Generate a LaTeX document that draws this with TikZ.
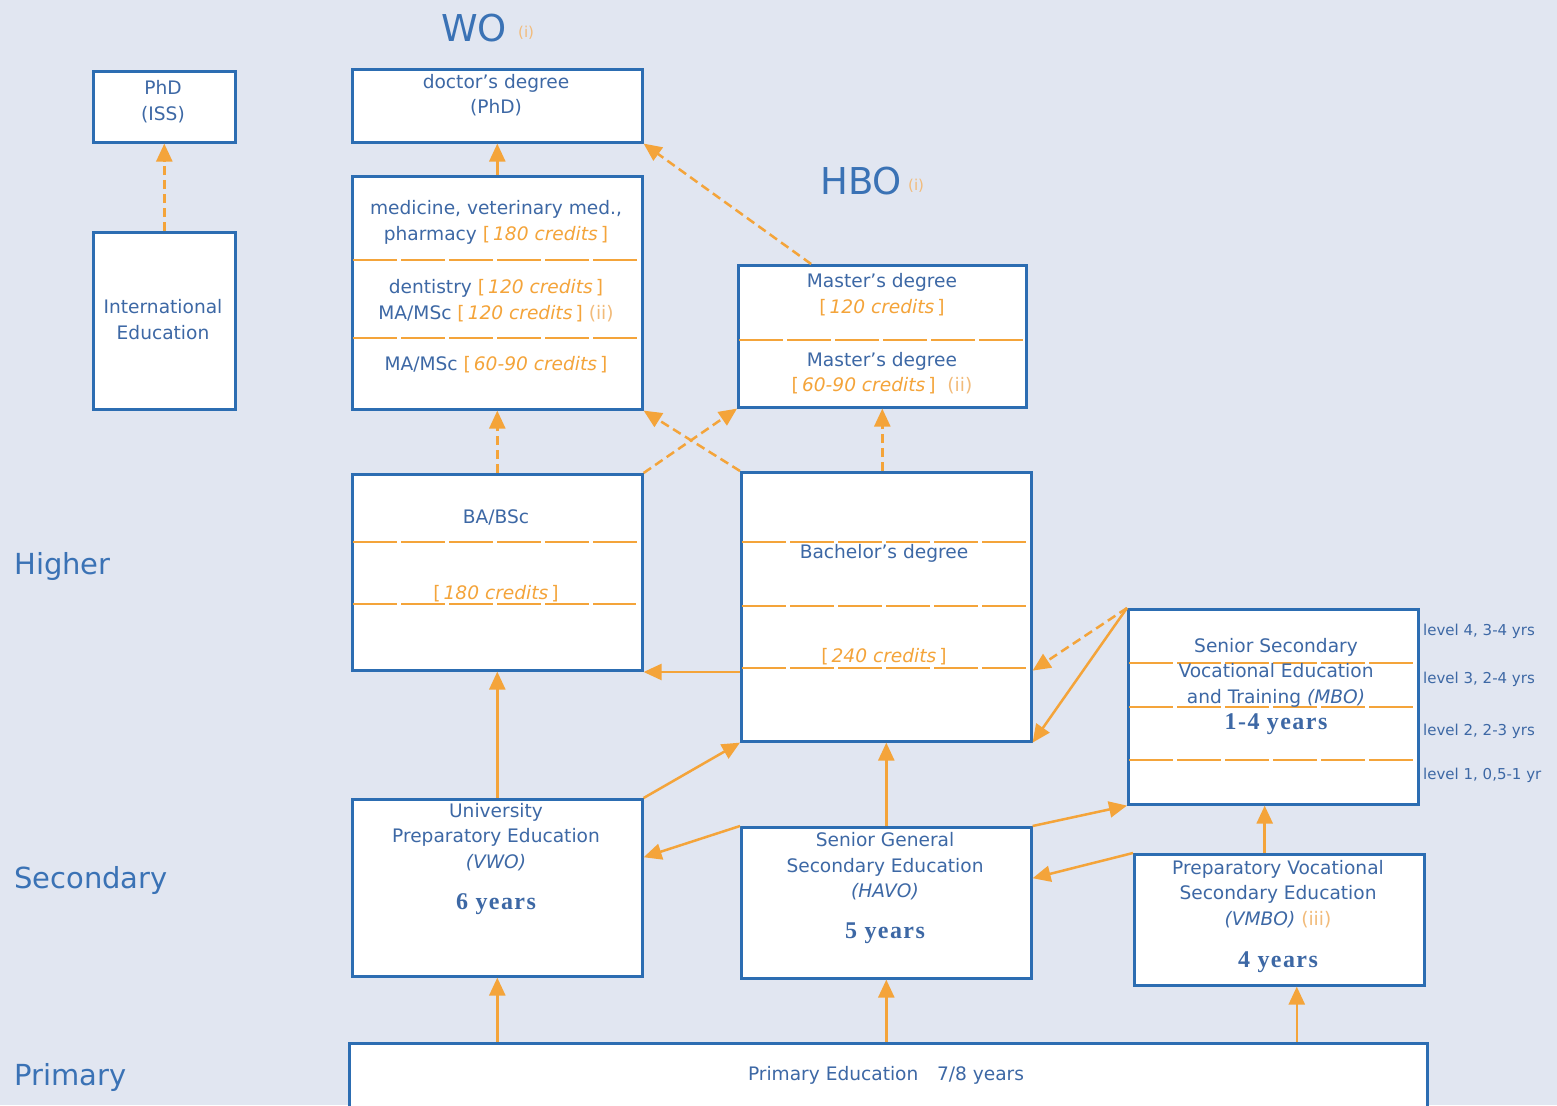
\documentclass[tikz,border=0pt]{standalone}
\usepackage{fontspec}
\setmainfont{DejaVu Sans}
\newfontfamily\serifyrs{Liberation Serif}
\usetikzlibrary{arrows.meta,calc}
\definecolor{bgc}{HTML}{E1E6F1}
\definecolor{boxblue}{HTML}{2C6DB2}
\definecolor{txtblue}{HTML}{3D68A5}
\definecolor{headblue}{HTML}{3A72B5}
\definecolor{orng}{HTML}{F4A43A}
\definecolor{lorng}{HTML}{F2BB7A}
\newcommand{\cred}[1]{{\color{orng}[\,\textit{#1}\,]}}
\newcommand{\fnt}[1]{{\color{lorng}(#1)}}
\newcommand{\yrs}[1]{{\serifyrs\bfseries\fontsize{24}{26}\selectfont\addfontfeatures{LetterSpace=6} #1}}
\begin{document}
\begin{tikzpicture}[x=1pt,y=-1pt,
  box/.style={draw=boxblue, line width=2.6pt, fill=white, anchor=north west, inner sep=0pt},
  txt/.style={text=txtblue, font=\fontsize{18.6}{25.5}\selectfont, inner sep=0pt, align=center},
  sml/.style={text=txtblue, font=\fontsize{15}{18}\selectfont, inner sep=0pt, anchor=west},
  side/.style={text=headblue, font=\fontsize{29}{34}\selectfont, inner sep=0pt, anchor=west},
  head/.style={text=headblue, font=\fontsize{37}{40}\selectfont, inner sep=0pt, anchor=west},
  div/.style={draw=orng, line width=1.8pt, dash pattern=on 44pt off 4pt},
  arr/.style={draw=orng, line width=2.5pt, -{Triangle[length=18pt,width=16pt]}},
  darr/.style={arr, dash pattern=on 9pt off 5pt},
]
\fill[bgc] (0,0) rectangle (1557,1105);
\useasboundingbox (0,0) rectangle (1557,1105);

% headings
\node[head] (wo) at (441,28) {WO};
\node[text=lorng, font=\fontsize{15}{18}\selectfont, inner sep=0pt, anchor=west] (woi) at (518,33) {(i)};
\node[head] (hbo) at (820,181) {HBO};
\node[text=lorng, font=\fontsize{15}{18}\selectfont, inner sep=0pt, anchor=west] (hboi) at (908,186) {(i)};
\node[side] (higher) at (14,566) {Higher};
\node[side] (secondary) at (14,880) {Secondary};
\node[side] (primary) at (14,1077) {Primary};

% boxes
\node[box, minimum width=142pt, minimum height=71pt] (phd) at (92,70) {};
\node[box, minimum width=142pt, minimum height=177pt] (intl) at (92,231) {};
\node[box, minimum width=290pt, minimum height=73pt] (doc) at (351,68) {};
\node[box, minimum width=290pt, minimum height=233pt] (wom) at (351,175) {};
\node[box, minimum width=288pt, minimum height=142pt] (hbm) at (737,264) {};
\node[box, minimum width=290pt, minimum height=196pt] (ba) at (351,473) {};
\node[box, minimum width=290pt, minimum height=269pt] (bach) at (740,471) {};
\node[box, minimum width=290pt, minimum height=195pt] (mbo) at (1127,608) {};
\node[box, minimum width=290pt, minimum height=177pt] (vwo) at (351,798) {};
\node[box, minimum width=290pt, minimum height=151pt] (havo) at (740,826) {};
\node[box, minimum width=290pt, minimum height=131pt] (vmbo) at (1133,853) {};
\node[box, minimum width=1078pt, minimum height=100pt] (prim) at (348,1042) {};

% dividers
\draw[div] (353,260) -- (639,260);
\draw[div] (353,338) -- (639,338);
\draw[div] (739,340) -- (1023,340);
\draw[div] (353,542) -- (639,542);
\draw[div] (353,604) -- (636,604);
\draw[div] (742,542) -- (1028,542);
\draw[div] (742,606) -- (1026,606);
\draw[div] (742,668) -- (1028,668);
\draw[div] (1129,663) -- (1415,663);
\draw[div] (1129,707) -- (1415,707);
\draw[div] (1129,760) -- (1415,760);

% texts
\node[txt] (tphd) at (163,101.5) {PhD\\(ISS)};
\node[txt] (tintl) at (163,319.5) {International\\Education};
\node[txt] (tdoc) at (496,95) {doctor's degree\\(PhD)};
\node[txt] (twom1) at (496,222.5) {medicine, veterinary med.,\\pharmacy \cred{180 credits}};
\node[txt] (twom2) at (496,300.5) {dentistry \cred{120 credits}\\MA/MSc \cred{120 credits} \fnt{ii}};
\node[txt] (twom3) at (496,365) {MA/MSc \cred{60-90 credits}};
\node[txt] (thbm1) at (882,294.5) {Master's degree\\\cred{120 credits}};
\node[txt] (thbm2) at (882,373) {Master's degree\\\cred{60-90 credits}\ \ \fnt{ii}};
\node[txt] (tba1) at (496,517) {BA/BSc};
\node[txt] (tba2) at (496,594) {\cred{180 credits}};
\node[txt] (tbach1) at (884,553) {Bachelor's degree};
\node[txt] (tbach2) at (884,657) {\cred{240 credits}};
\node[txt] (tmbo) at (1276,672.5) {Senior Secondary\\Vocational Education\\and Training \textit{(MBO)}};
\node[txt] (tmbo2) at (1276,724) {\yrs{1-4 years}};
\node[sml] (l4) at (1423,631) {level 4, 3-4 yrs};
\node[sml] (l3) at (1423,679) {level 3, 2-4 yrs};
\node[sml] (l2) at (1423,731) {level 2, 2-3 yrs};
\node[sml] (l1) at (1423,775) {level 1, 0,5-1 yr};
\node[txt] (tvwo) at (496,837) {University\\Preparatory Education\\\textit{(VWO)}};
\node[txt] (tvwo2) at (496,904) {\yrs{6 years}};
\node[txt] (thavo) at (885,866.5) {Senior General\\Secondary Education\\\textit{(HAVO)}};
\node[txt] (thavo2) at (885,933) {\yrs{5 years}};
\node[txt] (tvmbo) at (1278,894) {Preparatory Vocational\\Secondary Education\\\textit{(VMBO)} \fnt{iii}};
\node[txt] (tvmbo2) at (1278,962) {\yrs{4 years}};
\node[txt] (tprim) at (886,1075) {Primary Education\quad 7/8 years};

% connectors
\draw[darr] (intl.north) -- (phd.south);
\draw[arr] (wom.north) -- (doc.south);
\coordinate (hbmtop) at ($(hbm.north west)!0.255!(hbm.north east)$);
\draw[darr] (hbmtop) -- (doc.south east);
\draw[darr] (ba.north) -- (wom.south);
\draw[darr] (ba.north east) -- (hbm.south west);
\draw[darr] (bach.north west) -- (wom.south east);
\draw[darr] (bach.north -| hbm.south) -- (hbm.south);
\coordinate (bachl) at ($(bach.north west)!0.74!(bach.south west)$);
\draw[arr] (bachl) -- (bachl -| ba.east);
\coordinate (bachr) at ($(bach.north east)!0.735!(bach.south east)$);
\draw[darr] (mbo.north west) -- (bachr);
\draw[arr] (mbo.north west) -- (bach.south east);
\draw[arr] (vwo.north) -- (ba.south);
\draw[arr] (vwo.north east) -- (bach.south west);
\coordinate (vwor) at ($(vwo.north east)!0.33!(vwo.south east)$);
\draw[arr] (havo.north west) -- (vwor);
\draw[arr] (havo.north) -- (havo.north |- bach.south);
\draw[arr] (havo.north east) -- (mbo.south west);
\coordinate (havor) at ($(havo.north east)!0.34!(havo.south east)$);
\draw[arr] (vmbo.north west) -- (havor);
\coordinate (vmbotop) at ($(vmbo.north west)!0.45!(vmbo.north east)$);
\draw[arr] (vmbotop) -- (vmbotop |- mbo.south);
\draw[arr] (prim.north -| vwo.south) -- (vwo.south);
\draw[arr] (prim.north -| havo.south) -- (havo.south);
\coordinate (primr) at ($(prim.north west)!0.878!(prim.north east)$);
\draw[arr] (primr) -- (primr |- vmbo.south);
\end{tikzpicture}
\end{document}
